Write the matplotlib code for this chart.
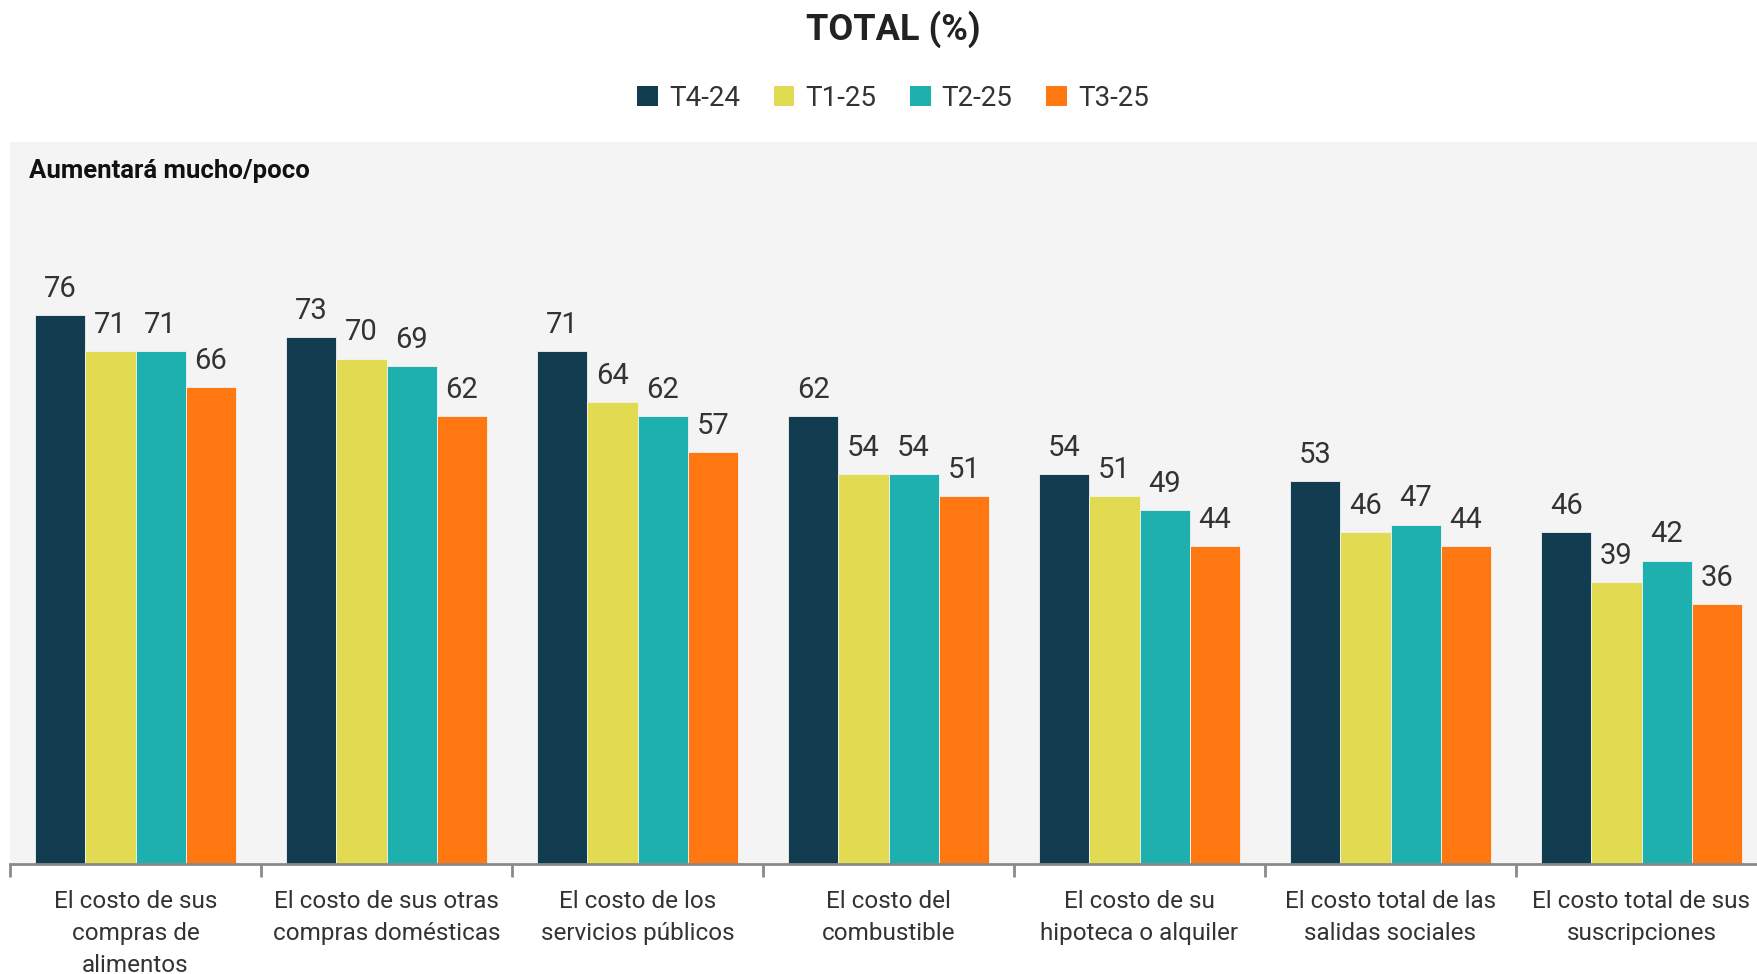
import numpy as np
import matplotlib
matplotlib.use("Agg")
import matplotlib.pyplot as plt
from matplotlib.patches import Patch

plt.rcParams['font.family'] = ['Roboto', 'DejaVu Sans']

categories = ["El costo de sus\ncompras de\nalimentos",
              "El costo de sus otras\ncompras domésticas",
              "El costo de los\nservicios públicos",
              "El costo del\ncombustible",
              "El costo de su\nhipoteca o alquiler",
              "El costo total de las\nsalidas sociales",
              "El costo total de sus\nsuscripciones"]
series = ["T4-24", "T1-25", "T2-25", "T3-25"]
t4_24 = [76, 73, 71, 62, 54, 53, 46]
t1_25 = [71, 70, 64, 54, 51, 46, 39]
t2_25 = [71, 69, 62, 54, 49, 47, 42]
t3_25 = [66, 62, 57, 51, 44, 44, 36]
colors = ["#123c4f", "#e2da50", "#1eb0ae", "#ff7711"]

txt = "#333333"

fig = plt.figure(figsize=(17.57, 9.74), dpi=100)
# axes runs a little past the right edge, like the source (last group cut off)
ax = fig.add_axes([10/1757, 110/974, 1757/1757, 722/974])
ax.set_facecolor("#f4f4f4")

x = np.arange(len(categories))
w = 0.2
for i, vals in enumerate([t4_24, t1_25, t2_25, t3_25]):
    pos = x + (i - 1.5) * w
    ax.bar(pos, vals, width=w, color=colors[i], edgecolor="#f4f4f4", linewidth=0.6)
    for p, v in zip(pos, vals):
        ax.text(p, v + 1.7, str(v), ha="center", va="bottom", fontsize=21, color=txt)

ax.set_xlim(-0.5, len(categories) - 0.5)
ax.set_ylim(0, 100)
ax.set_yticks([])
for s in ["top", "right", "left"]:
    ax.spines[s].set_visible(False)
ax.spines["bottom"].set_color("#8a8a8a")
ax.spines["bottom"].set_linewidth(2)

ax.set_xticks(x)
ax.set_xticklabels(categories, fontsize=17.5, color=txt, linespacing=1.5)
ax.tick_params(axis="x", which="major", length=0, pad=19)
ax.set_xticks(np.arange(len(categories) + 1) - 0.5, minor=True)
ax.tick_params(axis="x", which="minor", length=9, width=2, color="#8a8a8a")

ax.text(0.011, 0.96, "Aumentará mucho/poco", transform=ax.transAxes, fontsize=18.5,
        fontweight="bold", color="#111111", ha="left", va="center")

fig.text(893/1757, 1 - 29/974, "TOTAL (%)", ha="center", va="center", fontsize=26,
         fontweight="bold", color="#222222")

handles = [Patch(facecolor=c, edgecolor="none") for c in colors]
fig.legend(handles, series, loc="center", bbox_to_anchor=(893/1757, 1 - 98/974), ncol=4,
           frameon=False, fontsize=20, handlelength=0.75, handleheight=0.75,
           handletextpad=0.4, columnspacing=1.2, labelcolor=txt)

fig.savefig("out.png", dpi=100)
